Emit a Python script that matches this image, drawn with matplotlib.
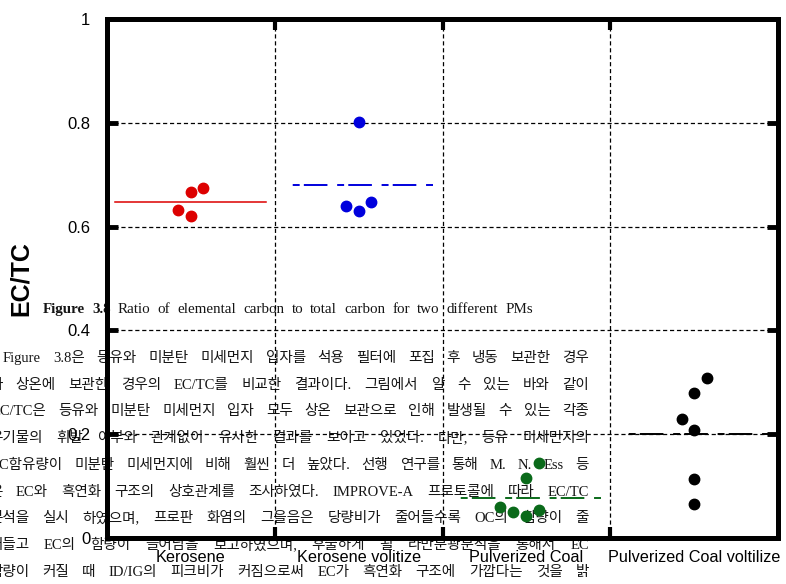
import matplotlib
matplotlib.use('Agg')
import matplotlib.pyplot as plt
import numpy as np
from matplotlib.transforms import IdentityTransform

# column names on the x axis
categories = ['Kerosene', 'Kerosene volitize', 'Pulverized Coal', 'Pulverized Coal voltilize']

# EC/TC values
kerosene = [0.632, 0.667, 0.674, 0.620]
kerosene_vol = [0.801, 0.640, 0.630, 0.648]
coal = [0.144, 0.115, 0.059, 0.050, 0.042, 0.053]
coal_vol = [0.308, 0.279, 0.230, 0.209, 0.113, 0.065]

# sideways spread of the dots inside each column
kerosene_off = [-0.075, 0, 0.075, 0]
kerosene_vol_off = [0, -0.075, 0, 0.075]
coal_off = [0.075, 0, -0.155, -0.08, 0, 0.075]
coal_vol_off = [0.075, 0, -0.075, 0, 0, 0]

yticks = [0, 0.2, 0.4, 0.6, 0.8, 1]
ytick_labels = ['0', '0.2', '0.4', '0.6', '0.8', '1']

# page text that sits behind the chart
caption = ['Figure', '3.8', 'Ratio', 'of', 'elemental', 'carbon', 'to', 'total',
           'carbon', 'for', 'two', 'different', 'PMs']
doc_lines = [
    'Figure 3.8은 등유와 미분탄 미세먼지 입자를 석용 필터에 포집 후 냉동 보관한 경우',
    '와 상온에 보관한 경우의 EC/TC를 비교한 결과이다. 그림에서 알 수 있는 바와 같이',
    'EC/TC은 등유와 미분탄 미세먼지 입자 모두 상온 보관으로 인해 발생될 수 있는 각종',
    '유기물의 휘발 여부와 관계없이 유사한 결과를 보이고 있었다. 다만, 등유 미세먼지의',
    'EC함유량이 미분탄 미세먼지에 비해 훨씬 더 높았다. 선행 연구를 통해 M. N. Ess 등',
    '은 EC와 흑연화 구조의 상호관계를 조사하였다. IMPROVE-A 프로토콜에 따라 EC/TC',
    '분석을 실시 하였으며, 프로판 화염의 그을음은 당량비가 줄어들수록 OC의 함량이 줄',
    '어들고 EC의 함량이 늘어남을 보고하였으며, 후술하게 될 라만분광분석을 통해서 EC',
    '함량이 커질 때 ID/IG의 피크비가 커짐으로써 EC가 흑연화 구조에 가깝다는 것을 밝',
]
doc_x0 = [3, -11, -8, -11, -9, -11, -11, -11, -11]
doc_y = [357, 384, 410, 437, 464, 491, 517, 544, 571]

plt.rcParams['font.family'] = ['Liberation Sans', 'DejaVu Sans']
plt.rcParams['lines.scale_dashes'] = False
doc_font = ['Liberation Serif', 'Noto Sans CJK KR']
doc_color = '#151515'

W, H = 786, 584
fig = plt.figure(figsize=(W / 100, H / 100), dpi=100)
ax = fig.add_axes([107 / W, 46 / H, 671 / W, 519 / H])
ax.set_facecolor('none')
ax.set_zorder(2)

red, blue, green = '#dd0000', '#0000dd', '#0a6a1a'
groups = [(kerosene, kerosene_off, red), (kerosene_vol, kerosene_vol_off, blue),
          (coal, coal_off, green), (coal_vol, coal_vol_off, 'black')]
for i, (vals, off, c) in enumerate(groups):
    ax.plot(i + np.array(off), vals, 'o', color=c, ms=7.5, mec=c, zorder=4)

dash = (25, (5, 3, 17, 7))
m = np.mean(kerosene)
ax.plot([-0.45, 0.45], [m, m], color=red, lw=1.1, zorder=3)
for i, (vals, off, c) in enumerate(groups[1:], start=1):
    m = np.mean(vals)
    ax.plot([i - 0.45, i + 0.45], [m, m], color=c, lw=1.4, linestyle=dash, zorder=3)

ax.set_xlim(-0.5, 3.5)
ax.set_ylim(0, 1)
ax.set_xticks([0.5, 1.5, 2.5])
ax.set_xticklabels([])
ax.set_xticks(range(4), minor=True)
ax.set_xticklabels(categories, minor=True)
ax.tick_params(axis='x', which='major', direction='in', length=8, width=3,
               top=True, bottom=True)
ax.tick_params(axis='x', which='minor', length=0, pad=9, labelsize=11.7)
ax.set_yticks(yticks)
ax.set_yticklabels(ytick_labels)
ax.tick_params(axis='y', direction='in', length=8, width=3.5, left=True, right=True,
               pad=12, labelsize=12)
ax.grid(True, which='major', color='black', linestyle=(0, (3, 2)), linewidth=0.9)
for sp in ax.spines.values():
    sp.set_linewidth(3.6)

fig.text(21 / W, 0.5 * (565 + 46) / H, 'EC/TC', rotation=90, fontsize=18,
         fontweight='bold', ha='center', va='center')

renderer = fig.canvas.get_renderer()


def put_line(words, x0, x1, y, size, bold_n=0):
    # spread the words so the line is justified between x0 and x1
    arts = []
    for k, w in enumerate(words):
        t = fig.text(0, 0, w, transform=IdentityTransform(), fontsize=size,
                     family=doc_font, fontweight='bold' if k < bold_n else 'normal',
                     color=doc_color, va='baseline', zorder=1)
        arts.append(t)
    widths = [t.get_window_extent(renderer).width for t in arts]
    gap = (x1 - x0 - sum(widths)) / (len(words) - 1)
    x = x0
    for t, w in zip(arts, widths):
        t.set_position((x, H - y))
        x += w + gap


put_line(caption, 43, 533, 313, 10.8, bold_n=2)
for line, x0, y in zip(doc_lines, doc_x0, doc_y):
    put_line(line.split(' '), x0, 589, y + 5, 10.5)

fig.savefig('out.png', dpi=100)
